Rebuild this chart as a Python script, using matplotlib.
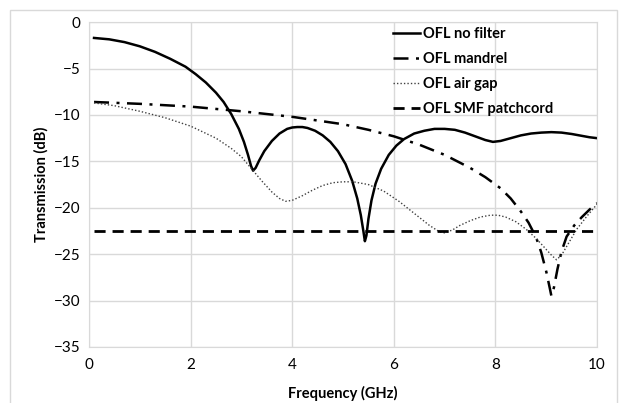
import matplotlib.pyplot as plt
from matplotlib.patches import Rectangle

plt.rcParams['font.family'] = ['Lato', 'DejaVu Sans']

# OFL no filter
f_nofilt = [0.1, 0.4, 0.7, 1.0, 1.3, 1.6, 1.9, 2.1, 2.3, 2.5, 2.65, 2.8, 2.95, 3.05, 3.13,
            3.19, 3.23, 3.28, 3.35, 3.45, 3.6, 3.75, 3.9, 4.0, 4.1, 4.2, 4.3, 4.45, 4.6, 4.75,
            4.9, 5.05, 5.18, 5.28, 5.35, 5.4, 5.43, 5.46, 5.5, 5.56, 5.64, 5.75, 5.9, 6.05,
            6.2, 6.4, 6.6, 6.8, 7.0, 7.2, 7.4, 7.6, 7.8, 7.95, 8.1, 8.3, 8.5, 8.7, 8.9,
            9.1, 9.3, 9.5, 9.7, 9.85, 10.0]
t_nofilt = [-1.7, -1.85, -2.15, -2.6, -3.2, -3.95, -4.8, -5.6, -6.5, -7.6, -8.6, -9.9, -11.5, -12.9, -14.3,
            -15.5, -16.0, -15.7, -14.9, -13.9, -12.8, -12.0, -11.5, -11.35, -11.3, -11.3, -11.4, -11.7, -12.2, -12.9,
            -13.9, -15.3, -17.1, -19.0, -20.8, -22.5, -23.6, -23.0, -21.2, -19.2, -17.4, -15.8, -14.3, -13.3,
            -12.6, -12.0, -11.7, -11.5, -11.5, -11.6, -11.9, -12.3, -12.7, -12.9, -12.8, -12.5, -12.2, -12.0, -11.9,
            -11.85, -11.9, -12.05, -12.25, -12.4, -12.5]

# OFL mandrel
f_mandrel = [0.1, 1.0, 2.0, 3.0, 4.0, 5.0, 5.5, 6.0, 6.5, 7.0, 7.5, 7.8, 8.1, 8.3, 8.5, 8.65,
             8.8, 8.9, 9.0, 9.07, 9.1, 9.15, 9.22, 9.3, 9.4, 9.55, 9.7, 9.85, 10.0]
t_mandrel = [-8.6, -8.8, -9.1, -9.6, -10.2, -11.0, -11.6, -12.3, -13.2, -14.3, -15.7, -16.7, -17.9, -19.0, -20.4, -21.6,
             -23.2, -24.8, -26.9, -28.7, -29.5, -28.6, -26.6, -24.7, -23.1, -21.9, -21.0, -20.2, -19.5]

# OFL air gap
f_airgap = [0.1, 0.5, 1.0, 1.5, 2.0, 2.5, 2.8, 3.0, 3.2, 3.4, 3.6, 3.75, 3.87, 4.0, 4.2,
            4.4, 4.6, 4.8, 5.0, 5.2, 5.5, 5.8, 6.1, 6.4, 6.7, 6.9, 7.0, 7.15, 7.3, 7.5,
            7.7, 7.9, 8.05, 8.2, 8.4, 8.6, 8.8, 9.0, 9.1, 9.2, 9.3, 9.45, 9.6, 9.8, 10.0]
t_airgap = [-8.7, -9.0, -9.6, -10.3, -11.2, -12.5, -13.6, -14.5, -15.8, -17.1, -18.3, -19.0, -19.3, -19.2, -18.7,
            -18.1, -17.6, -17.3, -17.2, -17.2, -17.5, -18.2, -19.3, -20.6, -21.9, -22.6, -22.7, -22.4, -21.9, -21.4,
            -21.0, -20.8, -20.8, -21.0, -21.5, -22.3, -23.3, -24.5, -25.1, -25.6, -25.1, -23.7, -22.3, -20.9, -19.6]

# OFL SMF patchcord
f_smf = [0.1, 10.0]
t_smf = [-22.5, -22.5]

fig = plt.figure(figsize=(6.22, 4.03), dpi=100)
fig.patches.append(Rectangle((0.016, -0.02), 0.976, 0.995, transform=fig.transFigure,
                             fill=False, edgecolor='#d9d9d9', linewidth=1))
ax = fig.add_axes([0.143, 0.139, 0.817, 0.806])

ax.plot(f_nofilt, t_nofilt, color='black', lw=1.8, label='OFL no filter')
ax.plot(f_mandrel, t_mandrel, color='black', lw=1.8, linestyle=(0, (6, 3, 1.2, 3)), label='OFL mandrel')
ax.plot(f_airgap, t_airgap, color='#404040', lw=1.0, linestyle=(0, (1, 1.5)), label='OFL air gap')
ax.plot(f_smf, t_smf, color='black', lw=2.0, linestyle=(0, (4, 2.5)), label='OFL SMF patchcord')

ax.set_xlim(0, 10)
ax.set_ylim(-35, 0)
ax.set_xticks([0, 2, 4, 6, 8, 10])
ax.set_yticks([0, -5, -10, -15, -20, -25, -30, -35])
ax.tick_params(length=0, labelsize=11)
ax.tick_params(axis='x', pad=8)
ax.tick_params(axis='y', pad=6)
ax.grid(True, color='#d9d9d9', lw=1)
ax.set_axisbelow(True)
for s in ax.spines.values():
    s.set_color('#d9d9d9')

ax.set_xlabel('Frequency (GHz)', fontsize=10.5, fontweight='bold', labelpad=10)
ax.set_ylabel('Transmission (dB)', fontsize=10.5, fontweight='bold', labelpad=4)

leg = ax.legend(loc='upper right', bbox_to_anchor=(0.94, 1.025), frameon=False, fontsize=10.5,
                handlelength=1.9, handletextpad=0.2, labelspacing=0.75)
for t in leg.get_texts():
    t.set_fontweight('bold')

plt.savefig('out.png', dpi=100)
